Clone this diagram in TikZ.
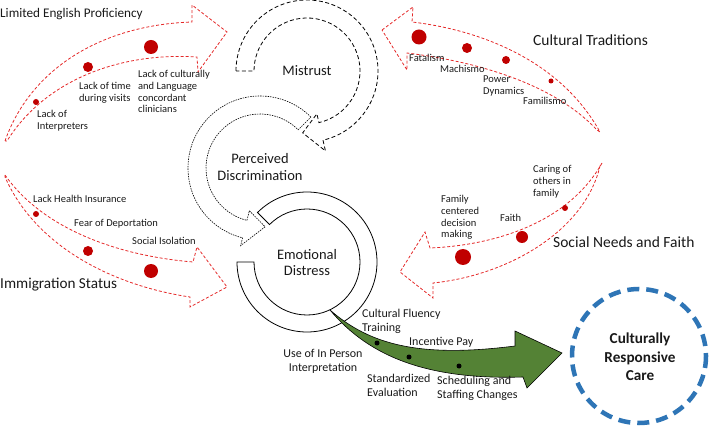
\documentclass[tikz,border=0pt]{standalone}
\usepackage{fontspec}
\setmainfont{Carlito}
\definecolor{redline}{RGB}{228,40,40}
\definecolor{dotred}{RGB}{192,0,0}
\definecolor{greenfill}{RGB}{84,130,53}
\definecolor{bluering}{RGB}{46,117,182}
\definecolor{txt}{RGB}{25,25,25}
\begin{document}
\begin{tikzpicture}[x=1pt,y=-1pt,
  redarrow/.style={draw=redline, line width=0.8pt, dash pattern=on 3pt off 2pt, line join=miter},
  reddot/.style={fill=dotred, draw=none},
  blackdot/.style={fill=black, draw=none},
  ttl/.style={font=\fontsize{15.5}{18}\selectfont, text=txt, inner sep=0pt, anchor=west},
  lbl/.style={font=\fontsize{10.5}{11.8}\selectfont, text=txt, inner sep=0pt, align=left, anchor=north west},
  glbl/.style={font=\fontsize{12}{13.8}\selectfont, text=txt, inner sep=0pt, align=left, anchor=north west},
  ringlbl/.style={font=\fontsize{14.5}{17}\selectfont, text=txt, inner sep=0pt, align=center},
  mistrustline/.style={draw=black, line width=0.8pt, dash pattern=on 4pt off 2.5pt},
  pdline/.style={draw=black, line width=0.6pt, dash pattern=on 1.5pt off 1pt},
  edline/.style={draw=black, line width=0.8pt},
  greenarrow/.style={fill=greenfill, draw=black, line width=0.6pt, line join=miter},
  bluecircle/.style={draw=bluering, line width=4.5pt, dash pattern=on 12pt off 7pt}
]
\useasboundingbox (0,0) rectangle (711,427);

% ---------- red dashed arrows ----------
% Limited English Proficiency
\draw[redarrow] (5,141) .. controls (30,70) and (100,25) .. (192,22) -- (192,5) -- (227,32)
  -- (198,72) -- (197,57) .. controls (120,52) and (45,80) .. (7,141) -- cycle;
% Cultural Traditions
\draw[redarrow] (382,30) -- (413,7) -- (412,22) .. controls (480,30) and (560,60) .. (600,132)
  -- (597,130) .. controls (555,85) and (480,62) .. (407,53) -- (407,70) -- cycle;
% Immigration Status
\draw[redarrow] (5,175) .. controls (40,225) and (110,255) .. (193,262) -- (197,247) -- (227,287)
  -- (190,307) -- (190,297) .. controls (110,285) and (35,245) .. (5,177) -- cycle;
% Social Needs and Faith
\draw[redarrow] (602,163) .. controls (570,220) and (500,245) .. (430,248) -- (425,232) -- (400,272)
  -- (433,298) -- (433,283) .. controls (510,275) and (585,230) .. (600,166) -- cycle;

% dots
\fill[reddot] (36,102) circle[radius=3];
\fill[reddot] (88,67) circle[radius=5];
\fill[reddot] (151,47) circle[radius=7];
\fill[reddot] (419,37) circle[radius=7.5];
\fill[reddot] (467,48) circle[radius=5];
\fill[reddot] (506,60) circle[radius=4];
\fill[reddot] (551,81) circle[radius=2.5];
\fill[reddot] (36,214) circle[radius=3];
\fill[reddot] (88,251) circle[radius=5];
\fill[reddot] (151,271) circle[radius=7];
\fill[reddot] (565,208) circle[radius=3];
\fill[reddot] (522,237) circle[radius=6];
\fill[reddot] (463,257) circle[radius=8];

% titles
\node[ttl, font=\fontsize{13.2}{16}\selectfont] (tlep) at (0,14) {Limited English Proficiency};
\node[ttl] (tct) at (533,40) {Cultural Traditions};
\node[ttl, font=\fontsize{15.2}{18}\selectfont] (tis) at (0,285) {Immigration Status};
\node[ttl] (tsnf) at (553,242) {Social Needs and Faith};

% labels
\node[lbl] (l1) at (37,110) {Lack of\\Interpreters};
\node[lbl] (l2) at (79,82) {Lack of time\\during visits};
\node[lbl] (l3) at (138,70) {Lack of culturally\\and Language\\concordant\\clinicians};
\node[lbl] (c1) at (409,54) {Fatalism};
\node[lbl] (c2) at (440,65) {Machismo};
\node[lbl] (c3) at (483,76) {Power\\Dynamics};
\node[lbl] (c4) at (523,97) {Familismo};
\node[lbl] (i1) at (33,195) {Lack Health Insurance};
\node[lbl] (i2) at (74,219) {Fear of Deportation};
\node[lbl] (i3) at (132,237) {Social Isolation};
\node[lbl] (s1) at (533,165) {Caring of\\others in\\family};
\node[lbl] (s2) at (500,214) {Faith};
\node[lbl] (s3) at (441,195) {Family\\centered\\decision\\making};

% ---------- ring arrows ----------
\begin{scope}[shift={(307,71)}]
\draw[mistrustline] (180:71) arc[start angle=180,end angle=437,radius=71] -- (437:82) -- (454:62)
  -- (437:44) -- (437:53) arc[start angle=437,end angle=180,radius=53] -- cycle;
\end{scope}
\begin{scope}[shift={(260,168)}]
\draw[pdline] (315:72) arc[start angle=315,end angle=104,radius=72] -- (104:80) -- (85:59)
  -- (104:44) -- (104:54) arc[start angle=104,end angle=315,radius=54] -- cycle;
\end{scope}
\begin{scope}[shift={(307,262)}]
\draw[edline] (225:70) arc[start angle=225,end angle=540,radius=70] -- (540:53)
  arc[start angle=540,end angle=225,radius=53] -- cycle;
\end{scope}

\node[ringlbl] (mis) at (307,71) {Mistrust};
\node[ringlbl] (pd) at (260,167) {Perceived\\Discrimination};
\node[ringlbl, font=\fontsize{14.5}{16}\selectfont] (ed) at (307,263) {Emotional\\Distress};

% ---------- green arrow ----------
\draw[greenarrow] (330,310) .. controls (370,345) and (420,358) .. (515,346) -- (515,331) -- (562,353)
  -- (527,388) -- (523,377) .. controls (430,380) and (370,358) .. (330,310) -- cycle;
\fill[blackdot] (377,343) circle[radius=2.5];
\fill[blackdot] (409,357) circle[radius=2.5];
\fill[blackdot] (459,366) circle[radius=2.5];

\node[glbl] (g1) at (362,309) {Cultural Fluency\\Training};
\node[glbl] (g2) at (409,337) {Incentive Pay};
\node[glbl] (g3) at (367,374) {Standardized\\Evaluation};
\node[glbl] (g4) at (437,376) {Scheduling and\\Staffing Changes};
\node[glbl, align=center, anchor=north] (g5) at (323,349) {Use of In Person\\Interpretation};

% ---------- target circle ----------
\draw[bluecircle] (639,356) circle[radius=67];
\node[ringlbl, font=\bfseries\fontsize{15.2}{18.5}\selectfont] (crc) at (640,357) {Culturally\\Responsive\\Care};
\end{tikzpicture}
\end{document}
